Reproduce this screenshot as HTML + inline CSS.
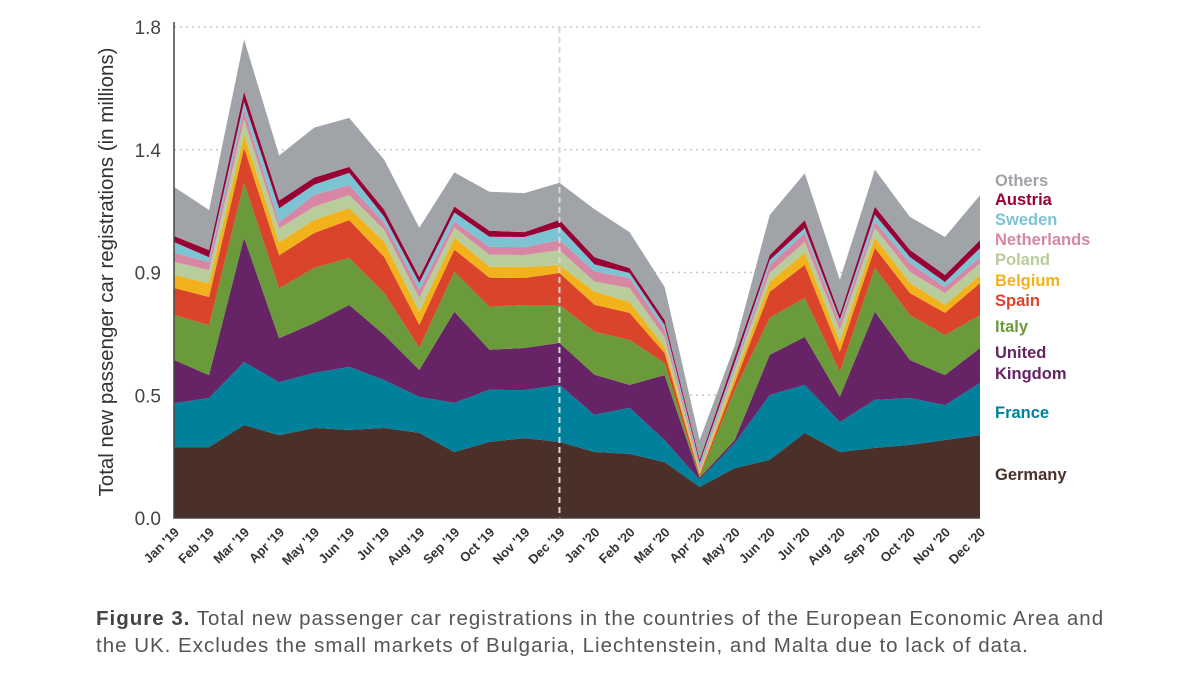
<!DOCTYPE html>
<html><head><meta charset="utf-8"><style>
body{margin:0;background:#fff;width:1200px;height:675px;overflow:hidden;font-family:"Liberation Sans",sans-serif}
svg{position:absolute;left:0;top:0}
.cap{position:absolute;left:96px;top:605px;font-size:20.5px;letter-spacing:1px;line-height:27px;color:#555;width:1080px;white-space:nowrap}
</style></head><body>
<svg id="chart" width="1200" height="600"></svg>
<div class="cap"><b style="color:#444">Figure 3.</b> Total new passenger car registrations in the countries of the European Economic Area and<br>the UK. Excludes the small markets of Bulgaria, Liechtenstein, and Malta due to lack of data.</div>
<script>
const months=["Jan '19","Feb '19","Mar '19","Apr '19","May '19","Jun '19","Jul '19","Aug '19","Sep '19","Oct '19","Nov '19","Dec '19","Jan '20","Feb '20","Mar '20","Apr '20","May '20","Jun '20","Jul '20","Aug '20","Sep '20","Oct '20","Nov '20","Dec '20"];
const germany=[.260,.260,.341,.304,.330,.323,.330,.312,.242,.279,.293,.279,.242,.235,.205,.114,.183,.213,.312,.242,.257,.268,.286,.304];
const france=[.161,.180,.231,.194,.202,.231,.176,.132,.180,.191,.176,.209,.136,.169,.081,.026,.092,.238,.176,.110,.176,.172,.128,.191];
const uk=[.158,.084,.455,.161,.183,.227,.165,.099,.334,.147,.154,.154,.147,.084,.238,.007,.011,.147,.176,.092,.323,.139,.110,.128];
const italy=[.165,.183,.202,.183,.202,.172,.154,.081,.147,.158,.158,.139,.158,.165,.044,.004,.183,.136,.143,.092,.161,.165,.147,.121];
const spain=[.099,.103,.128,.121,.128,.139,.132,.084,.081,.106,.099,.117,.099,.099,.037,.007,.026,.095,.121,.073,.073,.081,.081,.117];
const belgium=[.048,.051,.048,.048,.048,.044,.055,.048,.044,.040,.040,.029,.048,.040,.022,.007,.022,.037,.044,.037,.037,.037,.029,.029];
const poland=[.048,.048,.055,.051,.048,.048,.044,.051,.037,.044,.044,.055,.037,.051,.037,.011,.026,.033,.040,.044,.037,.040,.044,.044];
const netherlands=[.033,.029,.037,.022,.044,.037,.026,.029,.022,.029,.029,.037,.037,.037,.026,.011,.011,.029,.033,.026,.022,.033,.022,.022];
const sweden=[.040,.018,.029,.051,.037,.044,.022,.026,.033,.037,.037,.048,.026,.018,.018,.015,.015,.018,.018,.011,.026,.022,.018,.033];
const austria=[.022,.026,.037,.029,.026,.022,.026,.022,.022,.022,.018,.026,.026,.018,.018,.011,.022,.018,.029,.018,.029,.026,.026,.029];
const others=[.180,.147,.191,.165,.183,.180,.183,.180,.125,.143,.143,.136,.176,.132,.121,.073,.040,.147,.172,.128,.136,.121,.139,.165];
const yTicks=[0,0.45,0.9,1.35,1.8];
const yTickLabels=["0.0","0.5","0.9","1.4","1.8"];
const seriesNames=["Germany","France","United Kingdom","Italy","Spain","Belgium","Poland","Netherlands","Sweden","Austria","Others"];

const NS="http://www.w3.org/2000/svg";
const svg=document.getElementById('chart');
const X0=174,X1=980,Y0=518,Y1=27,YMAX=1.8;
const x=i=>X0+i*(X1-X0)/(months.length-1);
const y=v=>Y0-v*(Y0-Y1)/YMAX;
function mk(t,a){const e=document.createElementNS(NS,t);for(const k in a)e.setAttribute(k,a[k]);svg.appendChild(e);return e;}
const series=[germany,france,uk,italy,spain,belgium,poland,netherlands,sweden,austria,others];
const colors=["#4a3028","#00809a","#662366","#6a9a3a","#d9442a","#f2b21b","#b8cc9c","#d687a4","#7cc4d4","#990033","#a0a3a7"];
yTicks.forEach((t,i)=>{
 if(i>0){const g=mk('line',{x1:X0,x2:X1,y1:y(t),y2:y(t),stroke:'#c8c8c8','stroke-width':1.5,'stroke-dasharray':'2 4'});
 
 }
 const l=mk('text',{x:161,y:y(t)+7,'text-anchor':'end','font-size':19,fill:'#444'});l.textContent=yTickLabels[i];
 
 
});
let base=months.map(()=>0);
series.forEach((s,k)=>{
 const top=base.map((b,i)=>b+s[i]);
 let d='M'+top.map((v,i)=>x(i)+','+y(v)).join(' L');
 for(let i=months.length-1;i>=0;i--)d+=' L'+x(i)+','+y(base[i]);
 const p=mk('path',{d:d+'Z',fill:colors[k]});
 
 
 base=top;
});
const dl=mk('line',{x1:x(11),x2:x(11),y1:Y1,y2:Y0,stroke:'#d8d8d8','stroke-width':2,'stroke-dasharray':'6 4'});


const ax=mk('path',{d:`M${X0},${Y1-5} L${X0},${Y0} L${X1},${Y0}`,fill:'none',stroke:'#444','stroke-width':1.5});


months.forEach((m,i)=>{
 const t=mk('text',{transform:`translate(${x(i)+6},${533}) rotate(-45)`,'text-anchor':'end','font-size':13,'font-weight':'bold',fill:'#333'});t.textContent=m;
 
 
});
const yt=mk('text',{transform:'translate(113,272) rotate(-90)','text-anchor':'middle','font-size':20.5,fill:'#333'});
yt.textContent='Total new passenger car registrations (in millions)';


const legY=[474,412,352,326,300,280,259,239,219,199,180];
seriesNames.forEach((n,k)=>{
 const t=mk('text',{x:995,y:legY[k]+6,'font-size':16.5,'font-weight':'bold',fill:colors[k]});
 if(k===2){t.innerHTML='<tspan x="995">United</tspan><tspan x="995" dy="21">Kingdom</tspan>';}else t.textContent=n;
 
 
});
</script>
</body></html>
